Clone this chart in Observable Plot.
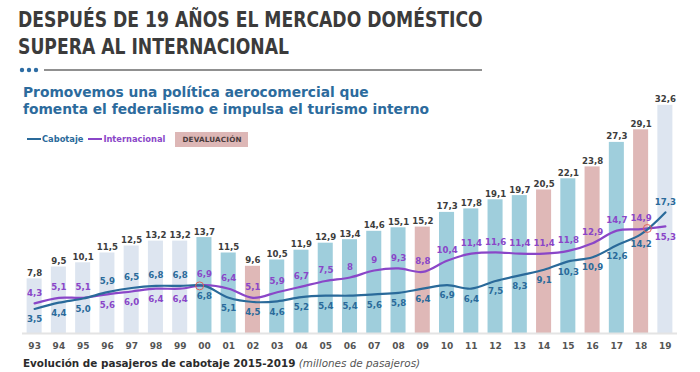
<!DOCTYPE html>
<html>
<head>
<meta charset="utf-8">
<script src="https://cdn.jsdelivr.net/npm/d3@7"></script>
<script src="https://cdn.jsdelivr.net/npm/@observablehq/plot@0.6"></script>
<style>
  html, body { margin: 0; padding: 0; background: #fff; }
  #page { position: relative; width: 700px; height: 372px; overflow: hidden; background: #fff; font-family: "DejaVu Sans", Verdana, sans-serif; }
  #title { position: absolute; left: 18px; top: 7px; font-family: "Liberation Sans Narrow", "Arial Narrow", "DejaVu Sans Condensed", sans-serif; font-weight: bold; font-size: 21px; line-height: 27px; color: #3b3b3b; white-space: nowrap; transform: scaleX(0.91); transform-origin: left top; }
  #divider { position: absolute; left: 0; top: 64px; }
  #subtitle { position: absolute; left: 23px; top: 84px; font-weight: bold; font-size: 13.8px; line-height: 16.5px; color: #2c6b9d; white-space: nowrap; }
  #legend { position: absolute; left: 27px; top: 132px; height: 14px; display: flex; align-items: center; font-weight: bold; font-size: 8.3px; white-space: nowrap; }
  .sw { display: inline-block; width: 14px; height: 2px; margin-right: 1px; }
  .dev { display: inline-block; margin-left: 10px; background: #ddb7b6; color: #4a3c3c; font-size: 7.2px; padding: 3px 6px 3px 7px; letter-spacing: 0.2px; }
  #chart { position: absolute; left: 0; top: 85px; }
  #footer { position: absolute; left: 23px; top: 357px; font-size: 10.4px; line-height: 13px; color: #2b2b2b; white-space: nowrap; }
  #footer b { font-weight: bold; }
  #footer i { color: #555; font-weight: normal; }
</style>
</head>
<body>
<div id="page">
  <div id="title">DESPUÉS DE 19 AÑOS EL MERCADO DOMÉSTICO<br>SUPERA AL INTERNACIONAL</div>
  <svg id="divider" width="700" height="12">
    <circle cx="22" cy="6" r="2.2" fill="#2e6da4"></circle>
    <circle cx="29" cy="6" r="2.2" fill="#2e6da4"></circle>
    <circle cx="36" cy="6" r="2.2" fill="#2e6da4"></circle>
    <line x1="44" x2="482" y1="6" y2="6" stroke="#6b6b6b" stroke-width="1.5"></line>
  </svg>
  <div id="subtitle">Promovemos una política aerocomercial que<br>fomenta el federalismo e impulsa el turismo interno</div>
  <div id="legend">
    <span class="sw" style="background:#2a6a9a"></span><span style="color:#2a6a9a">Cabotaje</span>
    <span class="sw" style="background:#8a46c8;margin-left:5px"></span><span style="color:#8a46c8">Internacional</span>
    <span class="dev">DEVALUACIÓN</span>
  </div>
  <div id="chart"></div>
  <div id="footer"><b>Evolución de pasajeros de cabotaje 2015-2019</b> <i>(millones de pasajeros)</i></div>
</div>
<script>
// ---- data ----
const years = ["93","94","95","96","97","98","99","00","01","02","03","04","05","06","07","08","09","10","11","12","13","14","15","16","17","18","19"];
const totales = ["7,8","9,5","10,1","11,5","12,5","13,2","13,2","13,7","11,5","9,6","10,5","11,9","12,9","13,4","14,6","15,1","15,2","17,3","17,8","19,1","19,7","20,5","22,1","23,8","27,3","29,1","32,6"];
const cabotaje = ["3,5","4,4","5,0","5,9","6,5","6,8","6,8","6,8","5,1","4,5","4,6","5,2","5,4","5,4","5,6","5,8","6,4","6,9","6,4","7,5","8,3","9,1","10,3","10,9","12,6","14,2","17,3"];
const internacional = ["4,3","5,1","5,1","5,6","6,0","6,4","6,4","6,9","6,4","5,1","5,9","6,7","7,5","8","9","9,3","8,8","10,4","11,4","11,6","11,4","11,4","11,8","12,9","14,7","14,9","15,3"];
const devaluacion = ["02","09","14","16","18"];
const periodoBase = ["93","94","95","96","97","98","99","19"];
const cruces = [["99","00"],["18","19"]];

const colBase = "#dde5f0", colTeal = "#9fcedc", colDev = "#dfb8b7";
const colCab = "#2a6a9a", colInt = "#8a46c8";

const num = s => +s.replace(",", ".");
const data = years.map((y, i) => ({
  i, year: y,
  total: num(totales[i]), totalLab: totales[i],
  cab: num(cabotaje[i]), cabLab: cabotaje[i],
  int: num(internacional[i]), intLab: internacional[i],
  fill: devaluacion.includes(y) ? colDev : periodoBase.includes(y) ? colBase : colTeal
}));

// crossing points between the two series (linear interpolation between neighbouring years)
const crossPts = cruces.map(([a, b]) => {
  const A = data[years.indexOf(a)], B = data[years.indexOf(b)];
  const d0 = A.cab - A.int, d1 = B.cab - B.int;
  const t = d0 / (d0 - d1);
  return { x: A.i + t, y: A.cab + t * (B.cab - A.cab) };
});

const labFont = { fontSize: 8.6, fontWeight: "bold" };
const off = 10.5;

const chart = Plot.plot({
  width: 700,
  height: 270,
  marginTop: 10,
  marginBottom: 22,
  marginLeft: 22,
  marginRight: 23,
  style: { background: "transparent", fontFamily: "DejaVu Sans, Verdana, sans-serif", overflow: "visible" },
  x: { domain: [-0.5, 26.5], axis: null },
  y: { domain: [0, 34], axis: null },
  color: { type: "identity" },
  marks: [
    Plot.rectY(data, { x1: d => d.i - 0.31, x2: d => d.i + 0.31, y: "total", fill: "fill" }),
    Plot.ruleY([0], { stroke: "#e4e4e4", strokeWidth: 2 }),
    Plot.line(data, { x: "i", y: "int", curve: "catmull-rom", stroke: colInt, strokeWidth: 2.2 }),
    Plot.line(data, { x: "i", y: "cab", curve: "catmull-rom", stroke: colCab, strokeWidth: 2.2 }),
    Plot.dot(crossPts, { x: "x", y: "y", r: 4, stroke: "#e0605a", strokeWidth: 1, fill: "none" }),
    Plot.text(data, { x: "i", y: "total", text: "totalLab", lineAnchor: "bottom", dy: -3, fill: "#3d3d3d", ...labFont }),
    Plot.text(data.filter(d => d.cab > d.int), { x: "i", y: "cab", text: "cabLab", dy: -off, fill: colCab, ...labFont }),
    Plot.text(data.filter(d => d.cab <= d.int), { x: "i", y: "cab", text: "cabLab", dy: off, fill: colCab, ...labFont }),
    Plot.text(data.filter(d => d.int >= d.cab), { x: "i", y: "int", text: "intLab", dy: -off, fill: colInt, ...labFont }),
    Plot.text(data.filter(d => d.int < d.cab), { x: "i", y: "int", text: "intLab", dy: off, fill: colInt, ...labFont }),
    Plot.axisX({ ticks: data.map(d => d.i), tickFormat: i => years[i], tickSize: 0, tickPadding: 9, fontWeight: "bold", fontSize: 9, fill: "#555" })
  ]
});
document.getElementById("chart").appendChild(chart);
</script>
</body>
</html>
